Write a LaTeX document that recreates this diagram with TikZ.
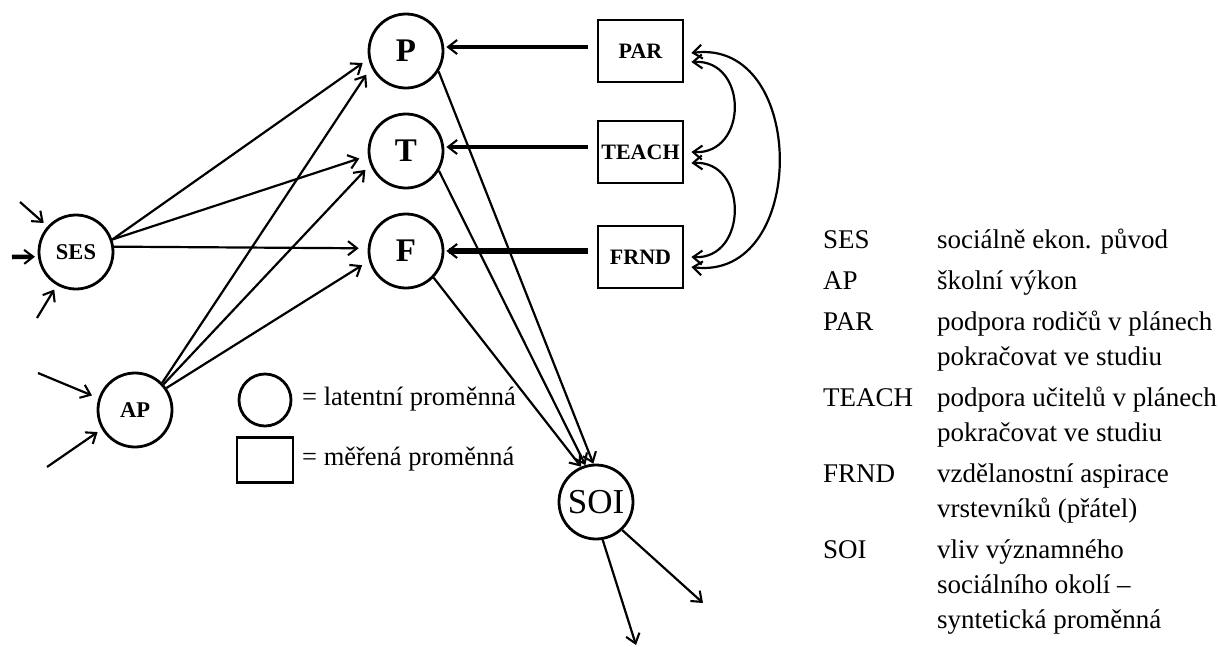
\documentclass[tikz,border=0pt]{standalone}
\usepackage{fontspec}
\setmainfont{Liberation Serif}
\usetikzlibrary{arrows.meta}

\tikzset{
  lat/.style={circle, draw, line width=2.8pt, minimum size=74pt, inner sep=0pt,
    font=\fontsize{22.5}{26}\selectfont\bfseries},
  latbig/.style={lat, font=\fontsize{33}{36}\selectfont\bfseries},
  meas/.style={rectangle, draw, line width=2.8pt, minimum width=85pt, minimum height=62pt,
    inner sep=0pt, font=\fontsize{22}{26}\selectfont\bfseries},
  barb/.tip={Straight Barb[length=9pt,width=14pt,line width=2.1pt]},
  arr/.style={line width=2.2pt, -barb},
  harr/.style={-barb},
  biarr/.style={line width=2.2pt, barb-barb},
  legtxt/.style={anchor=base west, inner sep=0pt, font=\fontsize{26.5}{30}\selectfont},
  keytxt/.style={anchor=base west, inner sep=0pt, font=\fontsize{27}{35}\selectfont}
}

\begin{document}
\begin{tikzpicture}[x=1pt, y=-1pt]
\useasboundingbox (0,0) rectangle (1218,646);

% latent variables
\node[latbig] (P) at (406,51) {P};
\node[latbig] (T) at (406,151) {T};
\node[latbig] (F) at (406,251) {F};
\node[lat] (SES) at (76,252) {SES};
\node[lat] (AP) at (135,410) {AP};
\node[lat, font=\fontsize{35}{40}\selectfont] (SOI) at (596,502) {SOI};

% measured variables
\node[meas] (PAR) at (640.5,51) {PAR};
\node[meas] (TEACH) at (640.5,152) {TEACH};
\node[meas] (FRND) at (640.5,257) {FRND};

% free ends of the error arrows
\coordinate (s1) at (20,202);
\coordinate (s2) at (12,257);
\coordinate (s3) at (37,318);
\coordinate (a1) at (38,373);
\coordinate (a2) at (47,467);
\coordinate (o1) at (636,645);
\coordinate (o2) at (703,603);

% disturbances
\draw[arr, shorten >=5pt] (s1) -- (SES.138);
\draw[harr, line width=4.5pt, shorten >=3pt] (s2) -- (SES.187);
\draw[arr, shorten >=5pt] (s3) -- (SES.240);
\draw[arr, shorten >=7pt] (a1) -- (AP.162);
\draw[arr, shorten >=5pt] (a2) -- (AP.210);

% SES and AP effects
\draw[arr, shorten >=7pt] (SES.19) -- (P.192);
\draw[arr, shorten >=9pt] (SES.19) -- (T.187);
\draw[arr, shorten >=9pt] (SES.8) -- (F.176);
\draw[arr, shorten >=9pt] (AP.45) -- (P.205);
\draw[arr, shorten >=7pt] (AP.42) -- (T.201);
\draw[arr, shorten >=8pt] (AP.35) -- (F.195);

% measured -> latent
\draw[harr, line width=3.8pt] ([xshift=-9pt,yshift=4pt]PAR.west) -- ([xshift=2pt,yshift=4pt]P.east);
\draw[harr, line width=4.6pt] ([xshift=-9pt,yshift=5pt]TEACH.west) -- ([xshift=2pt,yshift=4pt]T.east);
\draw[harr, line width=6pt] ([xshift=-9pt,yshift=6pt]FRND.west) -- ([xshift=2pt]F.east);

% latent -> SOI
\draw[arr] (P.-32) -- (SOI.94);
\draw[arr] (T.-31) -- (SOI.106);
\draw[arr] (F.-44) -- (SOI.113);
\draw[arr] (SOI.-80) -- (o1);
\draw[arr] (SOI.-47) -- (o2);

% correlations among measured variables
\draw[biarr] ([xshift=7pt,yshift=-2pt]PAR.east) .. controls +(117,-15) and +(117,15) .. ([xshift=7pt,yshift=-10pt]FRND.east);
\draw[biarr] ([xshift=7pt,yshift=-11pt]PAR.east) .. controls +(57,-3) and +(57,3) .. ([xshift=7pt]TEACH.east);
\draw[biarr] ([xshift=7pt,yshift=-11pt]TEACH.east) .. controls +(57,-3) and +(57,3) .. ([xshift=7pt]FRND.east);

% shape legend
\node[circle, draw, line width=2.8pt, minimum size=52pt, inner sep=0pt] (legC) at (265,400) {};
\node[rectangle, draw, line width=2.8pt, minimum width=56pt, minimum height=45pt, inner sep=0pt] (legR) at (265,460) {};
\node[legtxt] (legCt) at (302,405) {= latentní proměnná};
\node[legtxt] (legRt) at (302,465) {= měřená proměnná};

% abbreviations
\node[keytxt] (k1) at (823,248) {SES};
\node[keytxt] (d1) at (937,248) {sociálně ekon. původ};
\node[keytxt] (k2) at (823,289) {AP};
\node[keytxt] (d2) at (937,289) {školní výkon};
\node[keytxt] (k3) at (823,330) {PAR};
\node[keytxt] (d3) at (937,330) {podpora rodičů v plánech};
\node[keytxt] (d3b) at (937,365) {pokračovat ve studiu};
\node[keytxt] (k4) at (823,406) {TEACH};
\node[keytxt] (d4) at (937,406) {podpora učitelů v plánech};
\node[keytxt] (d4b) at (937,441) {pokračovat ve studiu};
\node[keytxt] (k5) at (823,482) {FRND};
\node[keytxt] (d5) at (937,482) {vzdělanostní aspirace};
\node[keytxt] (d5b) at (937,517) {vrstevníků (přátel)};
\node[keytxt] (k6) at (823,558) {SOI};
\node[keytxt] (d6) at (937,558) {vliv významného};
\node[keytxt] (d6b) at (937,593) {sociálního okolí –};
\node[keytxt] (d6c) at (937,628) {syntetická proměnná};
\end{tikzpicture}
\end{document}
